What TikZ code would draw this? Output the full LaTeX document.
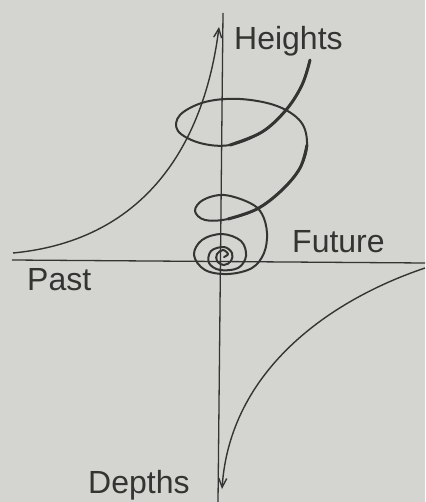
\documentclass[tikz,border=0pt]{standalone}
\usepackage{fontspec}
\setmainfont{Liberation Sans}
\usepackage{xcolor}
\usepackage{tikz}
\usetikzlibrary{arrows.meta}

\definecolor{paper}{RGB}{212,212,208}
\definecolor{ink}{RGB}{52,52,50}

\begin{document}
\begin{tikzpicture}[x=1pt, y=-1pt,
    axis/.style={draw=ink, line width=1.3pt},
    curve/.style={draw=ink, line width=1.4pt,
                  -{Straight Barb[length=9pt, width=8pt]}},
    coil/.style={draw=ink, line width=2pt, line cap=round, line join=round},
    lbl/.style={text=ink, anchor=base west, inner sep=0pt,
                font=\fontsize{32}{36}\selectfont},
  ]
    \fill[paper] (0,0) rectangle (425,502);
    \useasboundingbox (0,0) rectangle (425,502);

    % axes
    \coordinate (up)   at (223,13);
    \coordinate (down) at (218,502);
    \coordinate (west) at (12,260);
    \coordinate (east) at (425,263);
    \draw[axis] (up) -- (down);
    \draw[axis] (west) -- (east);

    % labels
    \node[lbl] (hts) at (234,50)  {Heights};
    \node[lbl] (fut) at (292,252) {Future};
    \node[lbl] (pst) at (27,290)  {Past};
    \node[lbl] (dep) at (88,493)  {Depths};

    % past -> heights, future -> depths
    \coordinate (pa) at (13,253);
    \coordinate (ha) at (219,27);
    \draw[curve] (pa) .. controls (150,240) and (205,138) .. (ha);
    \coordinate (fu) at (425,268);
    \coordinate (da) at (222,489);
    \draw[curve] (fu) .. controls (330,300) and (230,370) .. (da);

    % spiral
    \draw[coil] plot[smooth, tension=0.6] coordinates {
      (224,257) (228,254) (223,250) (217,254) (217,261) (224,265) (231,261)
      (232,253) (224,247) (211,251) (209,263) (220,270) (238,268) (246,256)
      (241,241) (222,234) (202,240) (194,255) (205,270) (228,274) (252,268)
      (264,253) (267,233) (262,214) (250,203) (224,195) (203,200) (195,211)
      (205,220) (228,219) (257,209) (282,190) (300,168) (307,145) (301,122)
      (277,106) (240,99) (205,102) (180,115) (178,131) (200,143) (230,145)
      (262,132) (286,110) (302,85) (310,60)};
    \draw[coil, line width=3pt] plot[smooth, tension=0.6] coordinates {
      (228,219) (257,209) (282,190) (300,168) (307,145)};
    \draw[coil, line width=3pt] plot[smooth, tension=0.6] coordinates {
      (230,145) (262,132) (286,110) (302,85) (310,60)};
\end{tikzpicture}
\end{document}
